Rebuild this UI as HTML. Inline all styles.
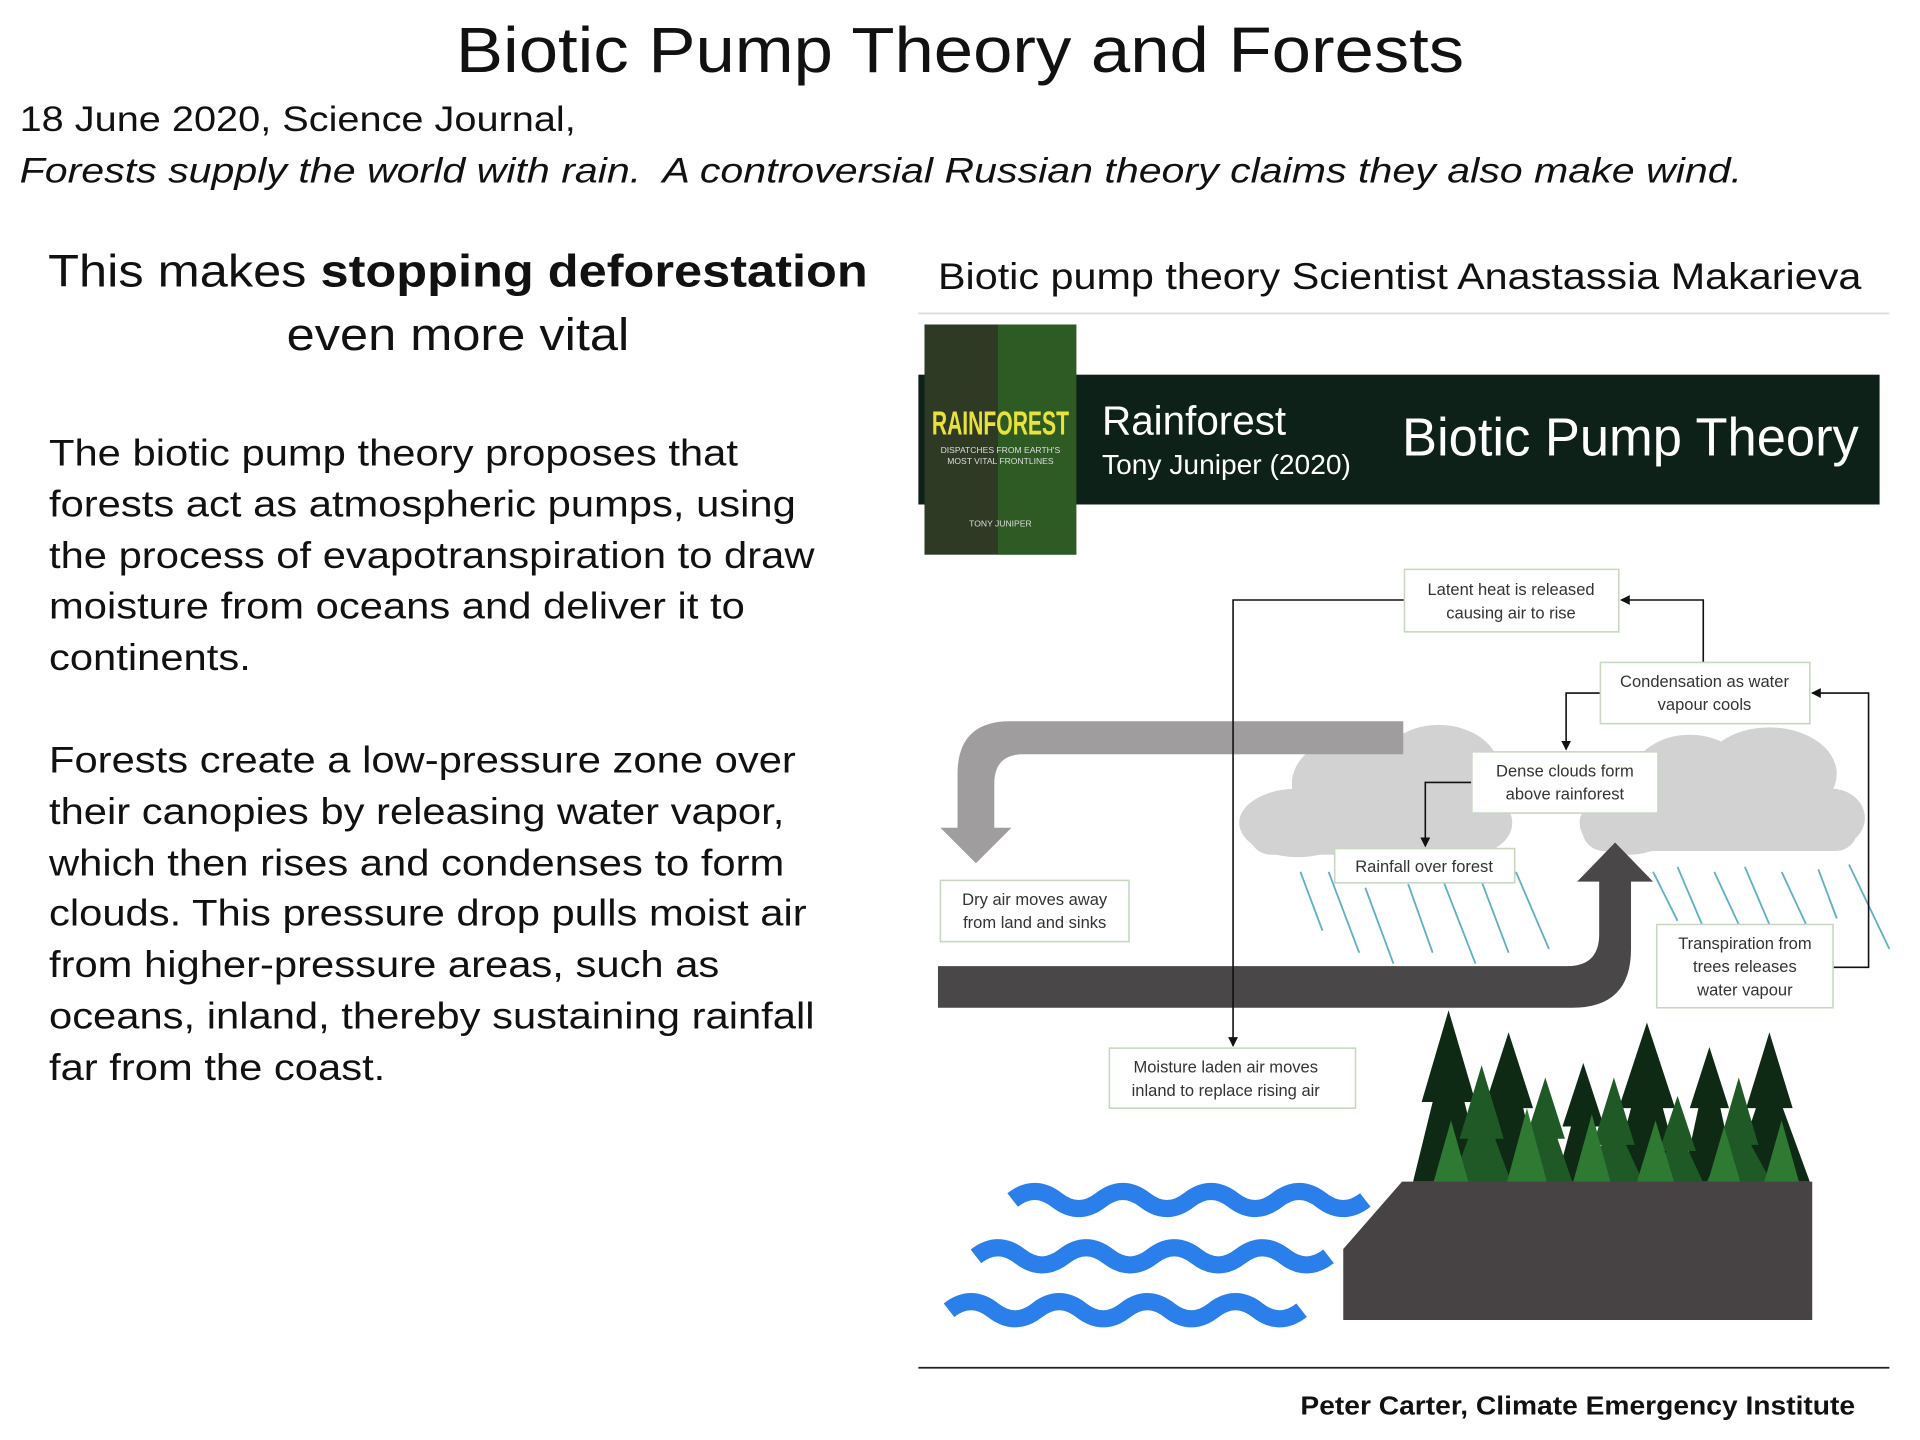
<!DOCTYPE html>
<html><head><meta charset="utf-8">
<style>
html,body{margin:0;padding:0;background:#fff;width:1920px;height:1440px;overflow:hidden}
#s{position:absolute;left:0;top:0;width:1568px;height:1176px;transform:scale(1.22449);transform-origin:0 0;font-family:"Liberation Sans","DejaVu Sans",sans-serif;color:#111}
.t{position:absolute;white-space:nowrap}
</style></head><body><div id="s">
<div class="t" style="left:0;width:1568px;text-align:center;top:12px;font-size:52px;transform:scaleX(1.11);transform-origin:784px 0">Biotic Pump Theory and Forests</div>
<div class="t" style="left:16px;top:82px;font-size:29px;transform:scaleX(1.118);transform-origin:0 0">18 June 2020, Science Journal,</div>
<div class="t" style="left:16px;top:124px;font-size:29px;font-style:italic;transform:scaleX(1.158);transform-origin:0 0">Forests supply the world with rain.&nbsp; A controversial Russian theory claims they also make wind.</div>
<div class="t" style="left:0;width:748px;text-align:center;top:196px;font-size:37px;line-height:52px;transform:scaleX(1.115);transform-origin:374px 0">This makes <b>stopping deforestation</b><br>even more vital</div>
<div class="t" style="left:40px;top:350px;font-size:30px;line-height:41.8px;transform:scaleX(1.136);transform-origin:0 0">The biotic pump theory proposes that<br>forests act as atmospheric pumps, using<br>the process of evapotranspiration to draw<br>moisture from oceans and deliver it to<br>continents.</div>
<div class="t" style="left:40px;top:601px;font-size:30px;line-height:41.8px;transform:scaleX(1.136);transform-origin:0 0">Forests create a low-pressure zone over<br>their canopies by releasing water vapor,<br>which then rises and condenses to form<br>clouds. This pressure drop pulls moist air<br>from higher-pressure areas, such as<br>oceans, inland, thereby sustaining rainfall<br>far from the coast.</div>
<div class="t" style="left:766px;top:210px;font-size:30px;transform:scaleX(1.125);transform-origin:0 0">Biotic pump theory Scientist Anastassia Makarieva</div>
<svg width="1568" height="1176" style="position:absolute;left:0;top:0" font-family="Liberation Sans, sans-serif">
<defs><marker id="a" markerWidth="8" markerHeight="8" refX="7" refY="4" orient="auto" markerUnits="userSpaceOnUse"><path d="M0,0L8,4L0,8z" fill="#111"/></marker></defs>
<line x1="750" y1="256" x2="1543" y2="256" stroke="#ddd" stroke-width="1.5"/>
<rect x="750" y="306" width="785" height="106" fill="#0d2118"/>
<rect x="755" y="265" width="124" height="188" fill="#2e3a24"/>
<rect x="815" y="265" width="64" height="188" fill="#2f6a25" opacity=".7"/>
<text x="817" y="355" font-size="27" fill="#e8e23a" text-anchor="middle" font-weight="bold" textLength="112" lengthAdjust="spacingAndGlyphs">RAINFOREST</text>
<text x="817" y="370" font-size="7" fill="#ddd" text-anchor="middle">DISPATCHES FROM EARTH'S</text>
<text x="817" y="379" font-size="7" fill="#ddd" text-anchor="middle">MOST VITAL FRONTLINES</text>
<text x="817" y="430" font-size="7" fill="#ddd" text-anchor="middle">TONY JUNIPER</text>
<text x="900" y="355" font-size="33" fill="#fff">Rainforest</text>
<text x="900" y="387" font-size="23" fill="#fff">Tony Juniper (2020)</text>
<text x="1145" y="372" font-size="44" fill="#fff" textLength="373" lengthAdjust="spacingAndGlyphs">Biotic Pump Theory</text>
<g fill="#d2d2d2">
<ellipse cx="1060" cy="672" rx="48" ry="28"/><ellipse cx="1110" cy="640" rx="55" ry="40"/><ellipse cx="1175" cy="630" rx="50" ry="38"/><ellipse cx="1200" cy="672" rx="35" ry="26"/><rect x="1020" y="660" width="200" height="38" rx="18"/>
<ellipse cx="1330" cy="672" rx="40" ry="26"/><ellipse cx="1380" cy="640" rx="50" ry="40"/><ellipse cx="1445" cy="632" rx="55" ry="38"/><ellipse cx="1495" cy="668" rx="28" ry="24"/><rect x="1292" y="655" width="225" height="40" rx="18"/>
</g>
<g stroke="#5fb0c8" stroke-width="1.5">
<line x1="1062" y1="712" x2="1080" y2="760"/><line x1="1085" y1="712" x2="1110" y2="778"/><line x1="1115" y1="725" x2="1138" y2="787"/><line x1="1150" y1="722" x2="1170" y2="778"/><line x1="1175" y1="710" x2="1205" y2="787"/><line x1="1210" y1="720" x2="1232" y2="778"/><line x1="1238" y1="712" x2="1265" y2="775"/>
<line x1="1350" y1="712" x2="1370" y2="752"/><line x1="1370" y1="708" x2="1390" y2="755"/><line x1="1400" y1="712" x2="1420" y2="755"/><line x1="1425" y1="708" x2="1445" y2="755"/><line x1="1455" y1="712" x2="1475" y2="755"/><line x1="1485" y1="710" x2="1500" y2="750"/><line x1="1510" y1="706" x2="1543" y2="775"/>
</g>
<path d="M1146,589 L825,589 Q782,589 782,632 L782,676 L768,676 L797,705 L826,676 L812,676 L812,640 Q812,616 836,616 L1146,616 Z" fill="#a09d9e"/>
<path d="M766,789 L1280,789 Q1306,789 1306,763 L1306,720 L1288,720 L1319,688 L1350,720 L1332,720 L1332,775 Q1332,823 1284,823 L766,823 Z" fill="#4a4748"/>
<g stroke="#111" stroke-width="1.3" fill="none">
<path d="M1147,490 L1007,490 L1007,854" marker-end="url(#a)"/>
<path d="M1391,541 L1391,490 L1324,490" marker-end="url(#a)"/>
<path d="M1307,566 L1279,566 L1279,612" marker-end="url(#a)"/>
<path d="M1202,639 L1164,639 L1164,691" marker-end="url(#a)"/>
<path d="M1497,790 L1526,790 L1526,566 L1480,566" marker-end="url(#a)"/>
</g>
<g fill="#fff" stroke="#c8d8c0" stroke-width="1.3">
<rect x="1147" y="465" width="175" height="51"/><rect x="1307" y="541" width="171" height="50"/><rect x="1202" y="614" width="152" height="50"/><rect x="1090" y="693" width="147" height="28"/><rect x="768" y="719" width="154" height="50"/><rect x="1353" y="755" width="144" height="68"/><rect x="906" y="856" width="201" height="49"/>
</g>
<g font-size="13.5" fill="#333" text-anchor="middle">
<text x="1234" y="486">Latent heat is released</text><text x="1234" y="505">causing air to rise</text>
<text x="1392" y="561">Condensation as water</text><text x="1392" y="580">vapour cools</text>
<text x="1278" y="634">Dense clouds form</text><text x="1278" y="653">above rainforest</text>
<text x="1163" y="712">Rainfall over forest</text>
<text x="845" y="739">Dry air moves away</text><text x="845" y="758">from land and sinks</text>
<text x="1425" y="775">Transpiration from</text><text x="1425" y="794">trees releases</text><text x="1425" y="813">water vapour</text>
<text x="1001" y="876">Moisture laden air moves</text><text x="1001" y="895">inland to replace rising air</text>
</g>
<g fill="#0f2a14">
<polygon points="1183,825 1205,900 1196,900 1212,965 1154,965 1170,900 1161,900"/>
<polygon points="1232,843 1252,905 1244,905 1258,965 1206,965 1220,905 1212,905"/>
<polygon points="1293,868 1310,920 1303,920 1315,965 1271,965 1283,920 1276,920"/>
<polygon points="1345,835 1368,905 1358,905 1374,965 1316,965 1332,905 1322,905"/>
<polygon points="1396,855 1412,905 1405,905 1418,965 1374,965 1387,905 1380,905"/>
<polygon points="1445,843 1464,905 1456,905 1478,965 1414,965 1434,905 1426,905"/>
</g>
<g fill="#1f5a26">
<polygon points="1210,870 1228,930 1221,930 1235,968 1185,968 1199,930 1192,930"/>
<polygon points="1262,880 1278,930 1272,930 1285,968 1239,968 1252,930 1246,930"/>
<polygon points="1318,880 1335,935 1328,935 1343,968 1293,968 1308,935 1301,935"/>
<polygon points="1370,895 1385,940 1379,940 1392,968 1348,968 1361,940 1355,940"/>
<polygon points="1420,880 1436,935 1430,935 1448,968 1392,968 1410,935 1404,935"/>
</g>
<g fill="#2e7a32">
<polygon points="1185,915 1200,968 1170,968"/><polygon points="1247,905 1264,968 1230,968"/><polygon points="1300,910 1316,968 1284,968"/><polygon points="1352,915 1368,968 1336,968"/><polygon points="1408,920 1422,968 1394,968"/><polygon points="1455,915 1470,968 1440,968"/>
</g>
<polygon points="1145,965 1480,965 1480,1078 1097,1078 1097,1020" fill="#474345"/>
<g fill="none" stroke="#2b7fea" stroke-width="14">
<path d="M827,980 q18,-14 36,0 t36,0 t36,0 t36,0 t36,0 t36,0 t36,0 t36,0"/>
<path d="M797,1026 q18,-14 36,0 t36,0 t36,0 t36,0 t36,0 t36,0 t36,0 t36,0"/>
<path d="M775,1070 q18,-14 36,0 t36,0 t36,0 t36,0 t36,0 t36,0 t36,0 t36,0"/>
</g>
<line x1="750" y1="1117" x2="1543" y2="1117" stroke="#222" stroke-width="1.5"/>
<text x="1515" y="1155" font-size="21" font-weight="bold" text-anchor="end" fill="#111" textLength="453" lengthAdjust="spacingAndGlyphs">Peter Carter, Climate Emergency Institute</text>
</svg>
</div></body></html>
